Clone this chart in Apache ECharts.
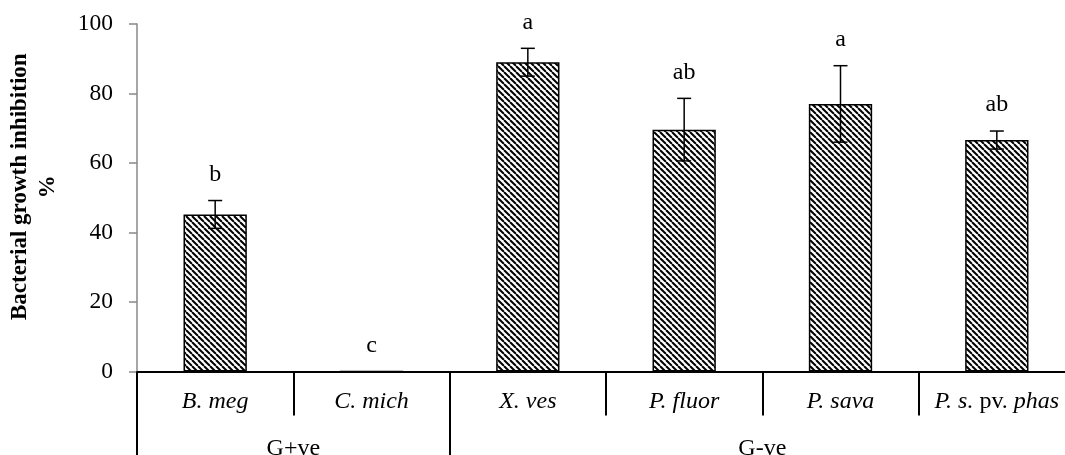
<!DOCTYPE html>
<html>
<head>
<meta charset="utf-8">
<script src="https://cdn.jsdelivr.net/npm/echarts@6/dist/echarts.min.js"></script>
<style>
  html, body { margin: 0; padding: 0; background: #fff; }
  #chart { width: 1065px; height: 455px; }
</style>
</head>
<body>
<div id="chart"></div>
<script>
const categories = ['B. meg', 'C. mich', 'X. ves', 'P. fluor', 'P. sava', 'P. s. pv. phas'];
const inhibition = [45.2, 0, 89.0, 69.6, 77.0, 66.6];
const errors = [4.0, 0, 4.0, 9.0, 11.0, 2.6];
const letters = ['b', 'c', 'a', 'ab', 'a', 'ab'];
const groups = ['G+ve', 'G-ve'];
const groupCenters = [1, 4];      // in category units
const groupBounds = [0, 2];       // long separators
const catBounds = [1, 3, 4, 5];   // short separators
const yTicks = [0, 20, 40, 60, 80, 100];

const serif = '"Liberation Serif", "Times New Roman", serif';

// hatch fill
function hatch() {
  const c = document.createElement('canvas');
  c.width = 6; c.height = 6;
  const g = c.getContext('2d');
  g.fillStyle = '#fff';
  g.fillRect(0, 0, 6, 6);
  g.strokeStyle = '#000';
  g.lineWidth = 2;
  for (const o of [-6, 0, 6]) {
    g.beginPath();
    g.moveTo(o, 0);
    g.lineTo(o + 6, 6);
    g.stroke();
  }
  return c;
}

const chart = echarts.init(document.getElementById('chart'), null, { renderer: 'canvas' });

const option = {
  animation: false,
  backgroundColor: '#fff',
  grid: {
    left: 137, top: 24, right: -10, bottom: 83.5,
    containLabel: false, outerBoundsMode: 'none'
  },
  xAxis: [
    {
      type: 'category',
      data: categories,
      position: 'bottom',
      axisLine: { lineStyle: { color: '#000', width: 2 } },
      axisTick: { alignWithLabel: true, length: 5, lineStyle: { color: '#000', width: 1.5 } },
      axisLabel: {
        interval: 0, hideOverlap: false,
        margin: 18,
        fontFamily: serif, fontSize: 24, color: '#000', fontStyle: 'italic',
        formatter: v => v === 'P. s. pv. phas' ? '{i|P. s.} {n|pv.} {i|phas}' : v,
        rich: {
          i: { fontFamily: serif, fontSize: 24, fontStyle: 'italic', color: '#000' },
          n: { fontFamily: serif, fontSize: 24, fontStyle: 'normal', color: '#000' }
        }
      },
      splitLine: { show: false }
    },
    {
      type: 'value', min: 0, max: 6, position: 'bottom',
      axisLine: { show: false },
      axisTick: { show: true, inside: false, length: 44, customValues: catBounds, lineStyle: { color: '#000', width: 2 } },
      axisLabel: { show: false },
      splitLine: { show: false }
    },
    {
      type: 'value', min: 0, max: 6, position: 'bottom',
      axisLine: { show: false },
      axisTick: { show: true, inside: false, length: 90, customValues: groupBounds, lineStyle: { color: '#000', width: 2 } },
      axisLabel: {
        show: true, margin: 65, customValues: groupCenters,
        formatter: v => groups[groupCenters.indexOf(v)],
        fontFamily: serif, fontSize: 24, color: '#000'
      },
      splitLine: { show: false }
    }
  ],
  yAxis: {
    type: 'value', min: 0, max: 100, interval: 20,
    name: 'Bacterial growth inhibition\n%',
    nameLocation: 'middle', nameRotate: 90, nameGap: 75,
    nameTextStyle: {
      fontFamily: serif, fontSize: 23, fontWeight: 'bold', color: '#000',
      lineHeight: 28, align: 'center', padding: [0, 0, 0, 22]
    },
    axisLine: { show: true, lineStyle: { color: '#888', width: 1.5 } },
    axisTick: { show: true, length: 8, lineStyle: { color: '#888', width: 1.5 } },
    axisLabel: {
      margin: 24, fontFamily: serif, fontSize: 23.5, color: '#000',
      formatter: v => yTicks.includes(v) ? String(v) : ''
    },
    splitLine: { show: false }
  },
  series: [
    {
      type: 'bar',
      data: inhibition,
      barWidth: '40.5%',
      itemStyle: {
        color: { image: hatch(), repeat: 'repeat' },
        borderColor: '#000', borderWidth: 1.5
      },
      z: 2
    },
    {
      type: 'custom',
      data: inhibition.map((v, i) => [i, v, errors[i]]),
      z: 5,
      renderItem: (params, api) => {
        const i = api.value(0), v = api.value(1), e = api.value(2);
        const top = api.coord([i, v + e]);
        const bot = api.coord([i, v - e]);
        const cap = 7;
        const line = { stroke: '#000', lineWidth: 1.5 };
        const children = [];
        if (e > 0) {
          children.push(
            { type: 'line', shape: { x1: top[0], y1: top[1], x2: bot[0], y2: bot[1] }, style: line },
            { type: 'line', shape: { x1: top[0] - cap, y1: top[1], x2: top[0] + cap, y2: top[1] }, style: line },
            { type: 'line', shape: { x1: bot[0] - cap, y1: bot[1], x2: bot[0] + cap, y2: bot[1] }, style: line }
          );
        }
        children.push({
          type: 'text',
          style: {
            x: top[0], y: top[1] - 26,
            text: letters[i],
            fontFamily: serif, fontSize: 24, fill: '#000',
            align: 'center', verticalAlign: 'middle'
          }
        });
        return { type: 'group', children };
      }
    }
  ]
};

chart.setOption(option);
window.addEventListener('resize', () => chart.resize());
</script>
</body>
</html>
